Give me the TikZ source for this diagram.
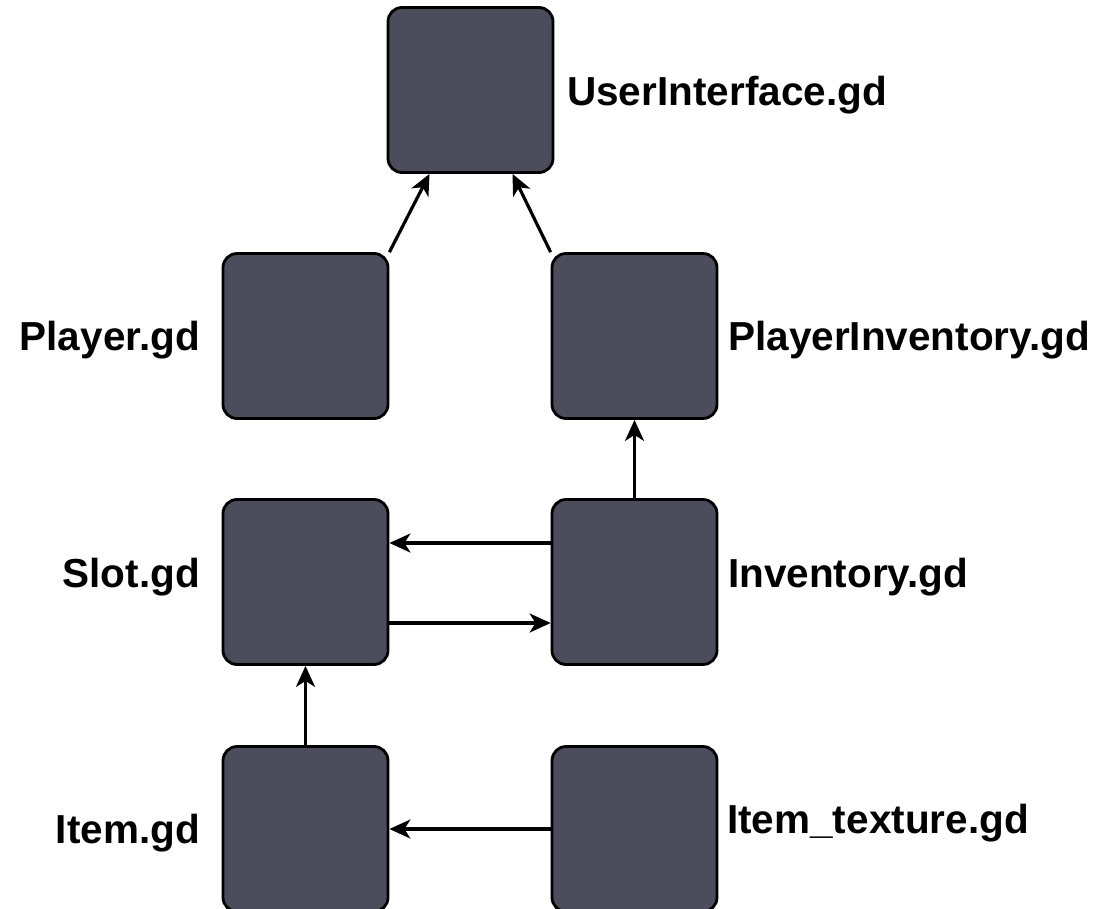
\documentclass[tikz,border=0pt]{standalone}
\usepackage{fontspec}
\setmainfont{Liberation Sans}
\usetikzlibrary{arrows.meta}
\definecolor{boxfill}{RGB}{76,77,92}
\begin{document}
\begin{tikzpicture}[x=1pt,y=-1pt,
  filebox/.style={draw=black, line width=2.8pt, fill=boxfill, rounded corners=14pt,
    minimum width=165pt, minimum height=165pt, inner sep=0pt},
  lbl/.style={inner sep=0pt, font=\bfseries\fontsize{40.5}{48}\selectfont},
  conn/.style={line width=3.2pt, -{Stealth[length=21pt, width=19pt, inset=6pt]}}]
\useasboundingbox (0,0) rectangle (1099,908);
\fill[white] (0,0) rectangle (1099,908);
% boxes
\node[filebox] (ui) at (470.5,90) {};
\node[filebox] (player) at (305.5,336) {};
\node[filebox] (pinv) at (634.5,336) {};
\node[filebox] (slot) at (305.5,582) {};
\node[filebox] (inv) at (634.5,582) {};
\node[filebox] (item) at (305.5,829) {};
\node[filebox] (tex) at (634.5,829) {};
% labels
\node[lbl, anchor=base west] (uil) at (567,105) {UserInterface.gd};
\node[lbl, anchor=base east] (playerl) at (200,350) {Player.gd};
\node[lbl, anchor=base west] (pinvl) at (728,350) {PlayerInventory.gd};
\node[lbl, anchor=base east] (slotl) at (200,587) {Slot.gd};
\node[lbl, anchor=base west] (invl) at (728,587) {Inventory.gd};
\node[lbl, anchor=base east] (iteml) at (200,843) {Item.gd};
\node[lbl, anchor=base west] (texl) at (727,833) {Item\_texture.gd};
% connectors
\draw[conn] (player.north east) -- ([xshift=-41pt]ui.south);
\draw[conn] (pinv.north west) -- ([xshift=42pt]ui.south);
\draw[conn] (inv.north) -- (pinv.south);
\draw[conn] ([yshift=39pt]inv.west) -- ([yshift=39pt]slot.east);
\draw[conn] ([yshift=-41pt]slot.east) -- ([yshift=-41pt]inv.west);
\draw[conn] (item.north) -- (slot.south);
\draw[conn] (tex.west) -- (item.east);
\end{tikzpicture}
\end{document}
